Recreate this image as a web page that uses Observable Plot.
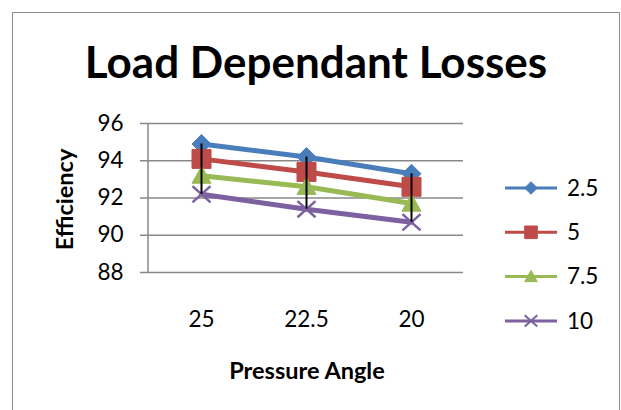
<!DOCTYPE html>
<html>
<head>
<meta charset="utf-8">
<script src="https://cdn.jsdelivr.net/npm/d3@7"></script>
<script src="https://cdn.jsdelivr.net/npm/@observablehq/plot@0.6"></script>
<style>
  body { margin: 0; background: #fff; }
  #wrap { position: relative; width: 621px; height: 410px; overflow: hidden; font-family: Lato, sans-serif; }
  #frame { position: absolute; left: 12px; top: 12px; width: 608px; height: 420px;
           border: 1.5px solid #8c8c8c; border-bottom: none; box-sizing: border-box; }
  #wrap svg { position: absolute; left: 0; top: 0; }
</style>
</head>
<body>
<div id="wrap"><div id="frame"></div></div>
<script>
// Pressure angle categories (degrees) and load levels
const angles = ["25", "22.5", "20"];
const loads = ["2.5", "5", "7.5", "10"];

// Efficiency (%) per load, in pressure-angle order
const effLoad2_5 = [94.9, 94.2, 93.3];
const effLoad5 = [94.1, 93.4, 92.6];
const effLoad7_5 = [93.2, 92.6, 91.7];
const effLoad10 = [92.2, 91.4, 90.7];

const yTicks = [88, 90, 92, 94, 96];
const colors = ["#4A7EBB", "#BE4B48", "#98B954", "#7D60A0"];

// Marker shapes (size = π r², r = half extent)
const half = (size) => Math.sqrt(size / Math.PI);
const diamond = { draw(c, s) { const r = half(s); c.moveTo(0, -r); c.lineTo(r, 0); c.lineTo(0, r); c.lineTo(-r, 0); c.closePath(); } };
const square = { draw(c, s) { const r = half(s); c.rect(-r, -r, 2 * r, 2 * r); } };
const triangle = { draw(c, s) { const r = half(s); c.moveTo(0, -r); c.lineTo(r, r * 0.8); c.lineTo(-r, r * 0.8); c.closePath(); } };
const times = { draw(c, s) { const r = half(s); c.moveTo(-r, -r * 0.9); c.lineTo(r, r * 0.9); c.moveTo(r, -r * 0.9); c.lineTo(-r, r * 0.9); } };
const symbols = [diamond, square, triangle, times];

const seriesValues = [effLoad2_5, effLoad5, effLoad7_5, effLoad10];
const rows = loads.flatMap((load, i) =>
  angles.map((angle, j) => ({ load, angle, eff: seriesValues[i][j] }))
);

// High-low span at each pressure angle
const spans = angles.map((angle) => {
  const vals = rows.filter((d) => d.angle === angle).map((d) => d.eff);
  return { angle, hi: d3.max(vals), lo: d3.min(vals) };
});

const gray = "#888888";
const tickFont = 22.5;

const chart = Plot.plot({
  width: 621,
  height: 410,
  marginLeft: 148,
  marginRight: 158,
  marginTop: 123,
  marginBottom: 138,
  style: { fontFamily: "Lato, sans-serif", background: "transparent", color: "#000", overflow: "visible" },
  x: { type: "point", domain: angles, padding: 0.5, label: null },
  y: { domain: [88, 96], label: null },
  color: { domain: loads, range: colors },
  symbol: { domain: loads, range: symbols },
  marks: [
    Plot.ruleY(yTicks, { stroke: gray, strokeWidth: 1.5 }),
    Plot.axisY({ ticks: yTicks, tickSize: 8, tickPadding: 17, fontSize: tickFont, stroke: gray, strokeWidth: 1.5, label: null }),
    Plot.axisX({ tickSize: 0, tickPadding: 39, fontSize: tickFont, label: null }),
    Plot.line(rows, { x: "angle", y: "eff", z: "load", stroke: "load", strokeWidth: 5 }),
    Plot.dot(rows.filter((d) => d.load !== "10"), { x: "angle", y: "eff", symbol: "load", fill: "load", stroke: "load", strokeWidth: 1, r: 9.5 }),
    Plot.dot(rows.filter((d) => d.load === "10"), { x: "angle", y: "eff", symbol: "load", fill: "none", stroke: "load", strokeWidth: 2.5, r: 9 }),
    Plot.ruleX(spans, { x: "angle", y1: "hi", y2: "lo", stroke: "#000", strokeWidth: 2 }),
    Plot.text(["Load Dependant Losses"], { frameAnchor: "top", textAnchor: "middle", lineAnchor: "middle", dx: 10, dy: -60, fontSize: 44, fontWeight: "bold" }),
    Plot.text(["Pressure Angle"], { frameAnchor: "bottom", textAnchor: "middle", lineAnchor: "middle", dx: 1, dy: 99, fontSize: 23.5, fontWeight: "bold" }),
    Plot.text(["Efficiency"], { frameAnchor: "left", textAnchor: "middle", lineAnchor: "middle", rotate: -90, dx: -83.5, dy: 1.5, fontSize: 23.5, fontWeight: "bold" })
  ]
});

document.getElementById("wrap").appendChild(chart);

// Vertical value-axis line along the left edge of the plot area
const svg = d3.select(chart);
const yr = chart.scale("y").range;
svg.append("line")
  .attr("x1", 148).attr("x2", 148)
  .attr("y1", Math.min(...yr)).attr("y2", Math.max(...yr) + 1)
  .attr("stroke", gray).attr("stroke-width", 1.5);

// Legend: line sample with marker and load label
const legend = svg.append("g").attr("transform", "translate(505,188)");
loads.forEach((load, i) => {
  const g = legend.append("g").attr("transform", `translate(0,${i * 44.3})`);
  g.append("line").attr("x1", 0).attr("x2", 52).attr("y1", 0).attr("y2", 0)
    .attr("stroke", colors[i]).attr("stroke-width", 3);
  const isTimes = symbols[i] === times;
  g.append("path")
    .attr("transform", "translate(26,0)")
    .attr("d", d3.symbol().type(symbols[i]).size(Math.PI * 6.3 * 6.3)())
    .attr("fill", isTimes ? "none" : colors[i])
    .attr("stroke", colors[i])
    .attr("stroke-width", isTimes ? 2 : 1);
  g.append("text").attr("x", 62).attr("y", 0).attr("dy", "0.35em")
    .attr("text-anchor", "start")
    .attr("font-size", tickFont).attr("fill", "#000").text(load);
});
</script>
</body>
</html>
